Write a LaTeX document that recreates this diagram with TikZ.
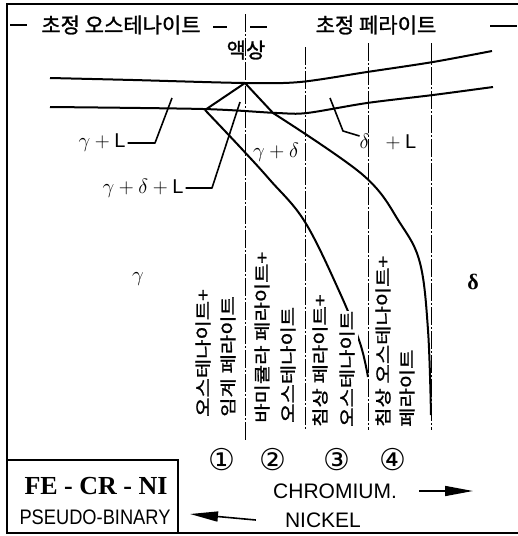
\documentclass[tikz,border=0pt]{standalone}
\usepackage{fontspec}
\setmainfont{Liberation Sans}
\newfontfamily\kfont[FakeBold=1.2]{Noto Sans CJK KR}
\newfontfamily\tfont{Liberation Serif}
\newfontfamily\cfont{DejaVu Sans}
\usetikzlibrary{arrows.meta}

\newcommand{\vlab}[1]{\scalebox{1}[0.8]{#1}}

\begin{document}
\begin{tikzpicture}[x=1pt,y=-1pt,
  every node/.style={inner sep=0pt},
  frameline/.style={line width=2pt},
  phase/.style={line width=2pt,line join=round},
  guide/.style={line width=0.7pt,dash pattern=on 18pt off 2pt on 2pt off 2pt},
  leader/.style={line width=1.6pt,line join=round},
  kor/.style={font=\kfont\fontsize{21}{24}\selectfont},
  vlabel/.style={kor,rotate=90,anchor=west},
  greek/.style={font=\fontsize{20}{22}\selectfont},
  axislabel/.style={font=\fontsize{21}{24}\selectfont},
  axisarrow/.style={line width=1.6pt,-{Triangle[length=28pt,width=10pt]}}]
  \fill[white] (0,0) rectangle (518,536);
  \useasboundingbox (0,0) rectangle (518,536);
  % outer frame (open on the right)
  \draw[frameline] (518,4) -- (7,4) -- (7,533) -- (518,533);
  % top row
  \draw[frameline] (10,25) -- (27,25);
  \node[kor] (ppa) at (121,25) {초정 오스테나이트};
  \draw[frameline] (213,27) -- (227,27);
  \draw[frameline] (250,27) -- (267,27);
  \node[kor] (ppf) at (376,25) {초정 페라이트};
  \draw[frameline] (490,26) -- (517,26);
  \node[kor] (liq) at (246,50) {액상};
  % vertical composition lines
  \draw[guide] (245,14) -- (245,440);
  \draw[guide] (305,47) -- (305,430);
  \draw[guide] (368,43) -- (368,430);
  \draw[guide] (431,43) -- (431,430);
  % liquidus and solidus
  \draw[phase] plot[smooth,tension=0.5] coordinates
    {(50,78) (133,80) (245,83) (300,82) (367,72) (433,62) (492,51)};
  \draw[phase] plot[smooth,tension=0.5] coordinates
    {(50,107) (203,109) (277,113) (307,113) (367,103) (433,95) (493,87)};
  % three-phase triangle
  \coordinate (apex) at (245,83);
  \coordinate (lv) at (205,110);
  \coordinate (rv) at (273,113);
  \draw[phase] (lv) -- (apex) -- (rv);
  % gamma/delta boundaries
  \draw[phase] plot[smooth,tension=0.6] coordinates
    {(lv) (240,147) (270,180) (305,222) (340,293) (360,343) (368,377)};
  \draw[phase] plot[smooth,tension=0.6] coordinates
    {(rv) (363,175) (400,223) (420,263) (428,330) (431,415)};
  % phase field labels
  \node[greek] (gL) at (102,143) {$\gamma+{}$L};
  \coordinate (gLtip) at (172,98);
  \draw[leader] ([xshift=2pt]gL.east) -- (155,143) -- (gLtip);
  \node[greek] (gdL) at (143,188) {$\gamma+\delta+{}$L};
  \coordinate (gdLtip) at (240,102);
  \draw[leader] ([xshift=2pt]gdL.east) -- (212,188) -- (gdLtip);
  \node[greek] (gd) at (276,152) {$\gamma+\delta$};
  \node[greek] (dL) at (388,142) {$\delta\;\;+{}$L};
  \coordinate (dLtip) at (330,98);
  \draw[leader] ([yshift=6pt]dL.west) -- (343,131) -- (dLtip);
  \node[font=\fontsize{21}{22}\selectfont] (gam) at (138,279) {$\gamma$};
  \node[font=\tfont\bfseries\fontsize{22}{24}\selectfont] (del) at (473,282) {δ};
  % solidification modes
  \node[vlabel] (c1a) at (203,417) {\vlab{오스테나이트+}};
  \node[vlabel] (c1b) at (228,417) {\vlab{임계 페라이트}};
  \node[vlabel] (c2a) at (262,423) {\vlab{바미큘라 페라이트+}};
  \node[vlabel] (c2b) at (288,423) {\vlab{오스테나이트}};
  \node[vlabel] (c3a) at (320,427) {\vlab{침상 페라이트+}};
  \node[vlabel,fill=white,inner xsep=0pt,inner ysep=3pt] (c3b) at (347,427) {\vlab{오스테나이트}};
  \node[vlabel] (c4a) at (383,427) {\vlab{침상 오스테나이트+}};
  \node[vlabel] (c4b) at (407,427) {\vlab{페라이트}};
  % mode numbers
  \foreach \n/\x in {1/222,2/273,3/337,4/393}
    \node[font=\cfont\fontsize{30}{32}\selectfont] (m\n) at (\x,460)
      {\ifcase\n\or ①\or ②\or ③\or ④\fi};
  % system box
  \draw[frameline] (7,460) rectangle (178,533);
  \node[font=\tfont\bfseries\fontsize{26}{28}\selectfont] (sys) at (96,486) {FE - CR - NI};
  \node[axislabel] (pb) at (95,517) {\scalebox{0.87}[1]{PSEUDO-BINARY}};
  % composition axes
  \node[axislabel,anchor=west] (cr) at (273,491) {CHROMIUM.};
  \coordinate (crtip) at (473,491);
  \draw[axisarrow] ([xshift=22pt]cr.east) -- (crtip);
  \node[axislabel] (ni) at (323,520) {NICKEL};
  \coordinate (nitip) at (190,514);
  \draw[axisarrow] ([xshift=-29pt]ni.west) -- (nitip);
\end{tikzpicture}
\end{document}
